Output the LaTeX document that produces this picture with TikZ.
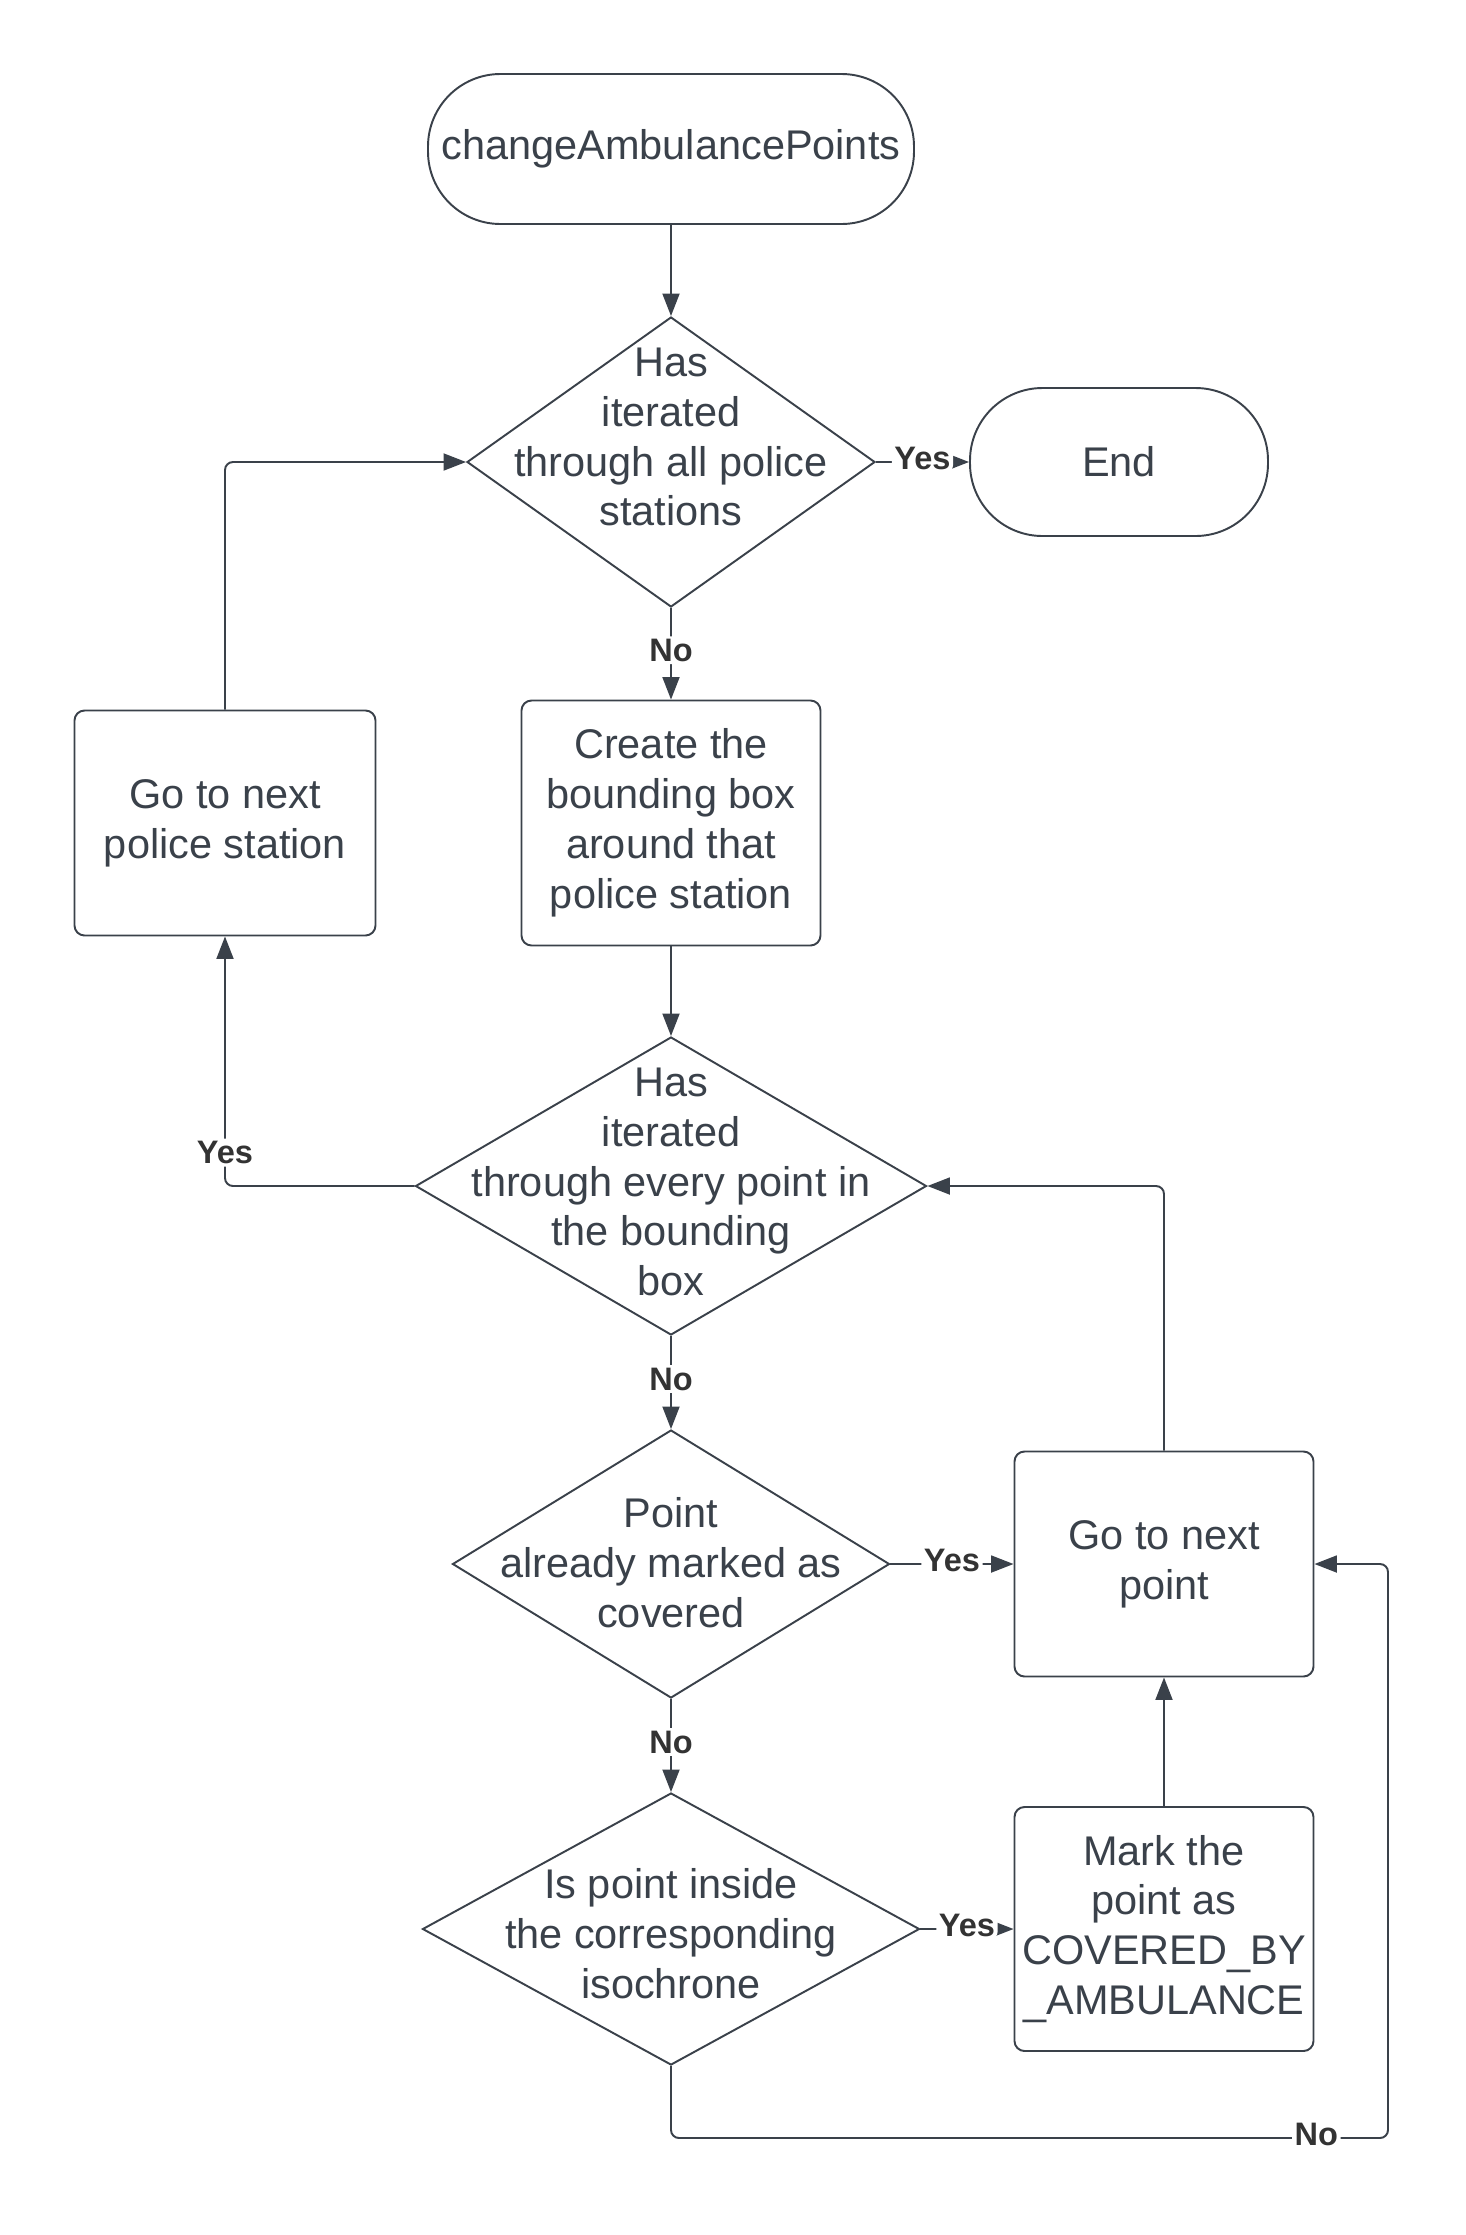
\documentclass[tikz,border=0pt]{standalone}
\usepackage{fontspec}
\setmainfont{Liberation Sans}
\usetikzlibrary{shapes.geometric,arrows.meta}
\definecolor{ink}{HTML}{3A414A}
\definecolor{lblink}{HTML}{333333}

\begin{document}
\begin{tikzpicture}[
    font=\fontsize{23.6}{28.4}\selectfont,
    term/.style={rectangle, rounded corners=1.45cm, draw=ink, text=ink, line width=1.1pt, inner sep=0pt},
    box/.style={rectangle, rounded corners=0.2cm, draw=ink, text=ink, line width=1.1pt, minimum width=5.98cm, align=center, inner sep=0pt},
    decision/.style={diamond, draw=ink, line width=1.1pt, inner sep=0pt},
    txt/.style={align=center, text=ink, inner sep=0pt},
    arr/.style={draw=ink, line width=1.1pt, -{Triangle[length=0.45cm,width=0.34cm]}, rounded corners=0.16cm},
    lbl/.style={fill=white, text=lblink, font=\fontsize{18.5}{20}\selectfont\bfseries, inner sep=1.5pt, yshift=0.07cm}
  ]
      \useasboundingbox (0,0) rectangle (29.32,-44.7);
      % top of the chart
      \node (start)[term, minimum width=9.72cm, minimum height=3cm] at (13.42,-2.98){changeAmbulancePoints};
      \node (d1)[decision, minimum width=8.16cm, minimum height=5.8cm] at (13.42,-9.24){};
      \node (d1txt)[txt] at (13.42,-8.74){Has\\iterated\\through all police\\stations};
      \node (end)[term, minimum width=5.96cm, minimum height=2.96cm] at (22.38,-9.24){End};
      \node (create)[box, minimum height=4.9cm] at (13.42,-16.46){Create the\\bounding box\\around that\\police station};
      \node (gops)[box, minimum width=6.02cm, minimum height=4.5cm] at (4.5,-16.46){Go to next\\police station};
      % inner loop
      \node (d2)[decision, minimum width=10.22cm, minimum height=5.96cm] at (13.42,-23.72){};
      \node (d2txt)[txt] at (13.42,-23.64){Has\\iterated\\through every point in\\the bounding\\box};
      \node (d3)[decision, minimum width=8.74cm, minimum height=5.36cm] at (13.42,-31.28){};
      \node (d3txt)[txt] at (13.42,-31.26){Point\\already marked as\\covered};
      \node (gopt)[box, minimum height=4.5cm] at (23.28,-31.28){Go to next\\point};
      \node (d4)[decision, minimum width=9.94cm, minimum height=5.44cm] at (13.42,-38.58){};
      \node (d4txt)[txt] at (13.42,-38.68){Is point inside\\the corresponding\\isochrone};
      \node (mark)[box, minimum height=4.88cm] at (23.28,-38.58){Mark the\\point as\\COVERED\_BY\\\_AMBULANCE};
      \coordinate (loop) at (27.76,-42.76);

      \draw [arr](start)--(d1);
      \draw [arr](d1)--node[lbl]{Yes}(end);
      \draw [arr](d1)--node[lbl]{No}(create);
      \draw [arr](gops.north)|-(d1.west);
      \draw [arr](create)--(d2);
      \draw [arr](d2.west)-|node[lbl, pos=0.56]{Yes}(gops.south);
      \draw [arr](d2)--node[lbl]{No}(d3);
      \draw [arr](d3)--node[lbl]{Yes}(gopt);
      \draw [arr](gopt.north)|-(d2.east);
      \draw [arr](d3)--node[lbl]{No}(d4);
      \draw [arr](d4)--node[lbl]{Yes}(mark);
      \draw [arr](mark)--(gopt);
      \draw [arr](d4.south)|-(loop)node[lbl, pos=0.95]{No}|-(gopt.east);
    \end{tikzpicture}
\end{document}
